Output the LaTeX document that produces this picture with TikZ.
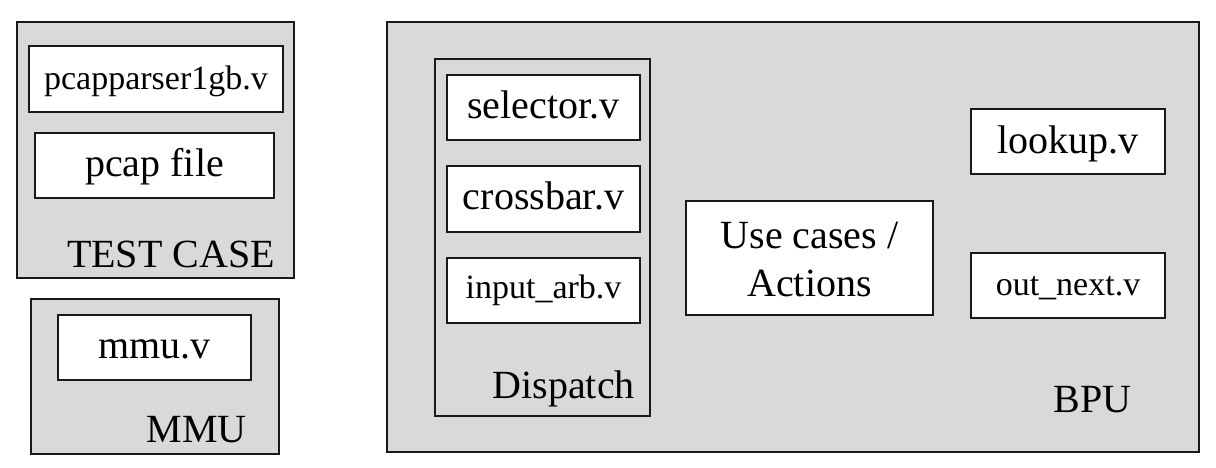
\documentclass[tikz,border=0pt]{standalone}
\usepackage{fontspec}
\setmainfont{Liberation Serif}
\definecolor{panel}{HTML}{D9D9D9}
\begin{document}
\begin{tikzpicture}[x=1pt,y=-1pt,
  group/.style={draw=black!90,line width=2pt,fill=panel,minimum width=#1,inner sep=0pt},
  file/.style={draw=black!90,line width=2pt,fill=white,inner sep=0pt},
  big/.style={font=\fontsize{40}{48.4}\selectfont,text height=22pt,text depth=0pt},
  small/.style={font=\fontsize{34}{40}\selectfont,text height=18pt,text depth=0pt},
  title/.style={anchor=base east,inner sep=0pt,font=\fontsize{40}{46}\selectfont}]
\useasboundingbox (0,0) rectangle (1216,467);
% TEST CASE
\node[group=277pt,minimum height=256pt] (testcase) at (155.5,150) {};
\node[file,small,minimum width=254pt,minimum height=66pt,text height=20pt] (pcapparser) at (156,79) {pcapparser1gb.v};
\node[file,big,minimum width=239pt,minimum height=65pt] (pcapfile) at (154.5,165.5) {pcap file};
\node[title] (testcaselbl) at (275,267) {TEST CASE};
% MMU
\node[group=248pt,minimum height=155pt] (mmu) at (155,376.5) {};
\node[file,big,minimum width=193pt,minimum height=65pt] (mmuv) at (154.5,347.5) {mmu.v};
\node[title] (mmulbl) at (247,442) {MMU};
% BPU
\node[group=812pt,minimum height=430pt] (bpu) at (793,237) {};
\node[group=215pt,minimum height=357pt] (dispatch) at (542.5,237.5) {};
\node[file,big,minimum width=193pt,minimum height=65pt] (selector) at (543.5,107.5) {selector.v};
\node[file,big,minimum width=193pt,minimum height=66pt,text height=20pt] (crossbar) at (543.5,199) {crossbar.v};
\node[file,small,minimum width=193pt,minimum height=65pt,text height=16pt] (inputarb) at (543.5,290.5) {input\_arb.v};
\node[title] (dispatchlbl) at (635,398) {Dispatch};
\node[file,font=\fontsize{40}{48.4}\selectfont,align=center,text height=77.4pt,text depth=0pt,minimum width=247pt,minimum height=114pt] (usecases) at (809.5,258) {Use cases /\\Actions};
\node[file,big,minimum width=194pt,minimum height=65pt,text height=24pt] (lookup) at (1068,141.5) {lookup.v};
\node[file,small,minimum width=194pt,minimum height=65pt,text height=19pt] (outnext) at (1068,285.5) {out\_next.v};
\node[title] (bpulbl) at (1132,412) {BPU};
\end{tikzpicture}
\end{document}
